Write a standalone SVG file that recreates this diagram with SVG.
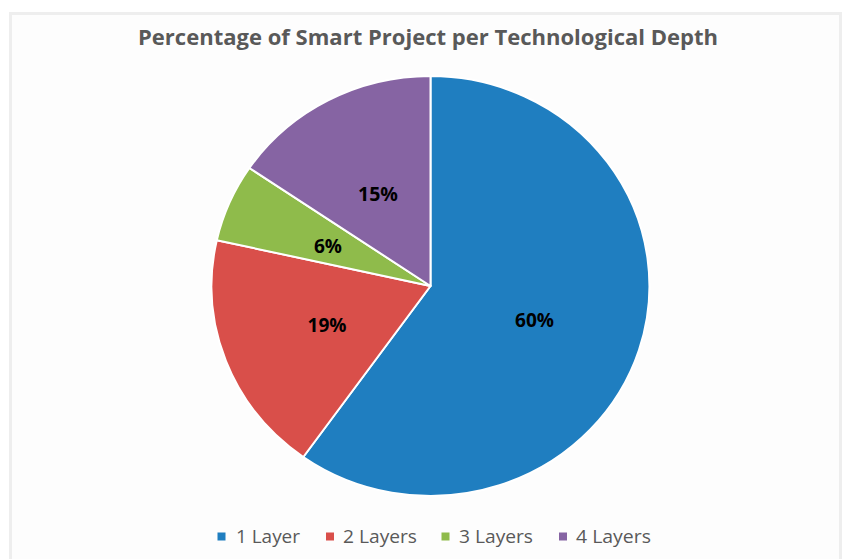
<svg xmlns="http://www.w3.org/2000/svg" width="843" height="559" viewBox="0 0 843 559">
<style>
.title{font-family:"Open Sans","Liberation Sans",sans-serif;font-weight:bold;font-size:21.5px;fill:#595959}
.lbl{font-family:"Open Sans","Liberation Sans",sans-serif;font-weight:bold;font-size:19px;fill:#000}
.leg{font-family:"Open Sans","Liberation Sans",sans-serif;font-size:18.5px;fill:#595959}
.slice{stroke:#fff;stroke-width:2;stroke-linejoin:round}
</style>
<rect x="0" y="0" width="843" height="559" fill="#fff"/>
<rect x="10.5" y="13.5" width="830" height="560" fill="#fdfdfd" stroke="#eeeeee" stroke-width="3"/>
<text class="title" x="428" y="45" text-anchor="middle" textLength="580" lengthAdjust="spacingAndGlyphs">Percentage of Smart Project per Technological Depth</text>
<g id="pie">
<g id="slice-1layer"><path class="slice" fill="#1f7ec0" d="M430.5,286 L430.5,76 A219,210 0 1 1 303.3,457 Z"/></g>
<g id="slice-2layers"><path class="slice" fill="#d94f4a" d="M430.5,286 L303.3,457 A219,210 0 0 1 216.8,240.2 Z"/></g>
<g id="slice-3layers"><path class="slice" fill="#8fbb4b" d="M430.5,286 L216.8,240.2 A219,210 0 0 1 249.4,168 Z"/></g>
<g id="slice-4layers"><path class="slice" fill="#8664a3" d="M430.5,286 L249.4,168 A219,210 0 0 1 430.5,76 Z"/></g>
</g>
<g id="labels">
<text class="lbl" x="534.5" y="326.5" text-anchor="middle" textLength="39" lengthAdjust="spacingAndGlyphs">60%</text>
<text class="lbl" x="327" y="331.5" text-anchor="middle" textLength="39" lengthAdjust="spacingAndGlyphs">19%</text>
<text class="lbl" x="328" y="252.5" text-anchor="middle" textLength="28" lengthAdjust="spacingAndGlyphs">6%</text>
<text class="lbl" x="378" y="201" text-anchor="middle" textLength="40" lengthAdjust="spacingAndGlyphs">15%</text>
</g>
<g id="legend">
<rect x="217.5" y="532.5" width="8" height="8" fill="#1f7ec0"/>
<text class="leg" x="236" y="542.5" textLength="64" lengthAdjust="spacingAndGlyphs">1 Layer</text>
<rect x="326" y="532.5" width="8" height="8" fill="#d94f4a"/>
<text class="leg" x="343" y="542.5" textLength="74" lengthAdjust="spacingAndGlyphs">2 Layers</text>
<rect x="441.5" y="532.5" width="8" height="8" fill="#8fbb4b"/>
<text class="leg" x="459" y="542.5" textLength="74" lengthAdjust="spacingAndGlyphs">3 Layers</text>
<rect x="559" y="532.5" width="8" height="8" fill="#8664a3"/>
<text class="leg" x="576" y="542.5" textLength="75" lengthAdjust="spacingAndGlyphs">4 Layers</text>
</g>
</svg>
